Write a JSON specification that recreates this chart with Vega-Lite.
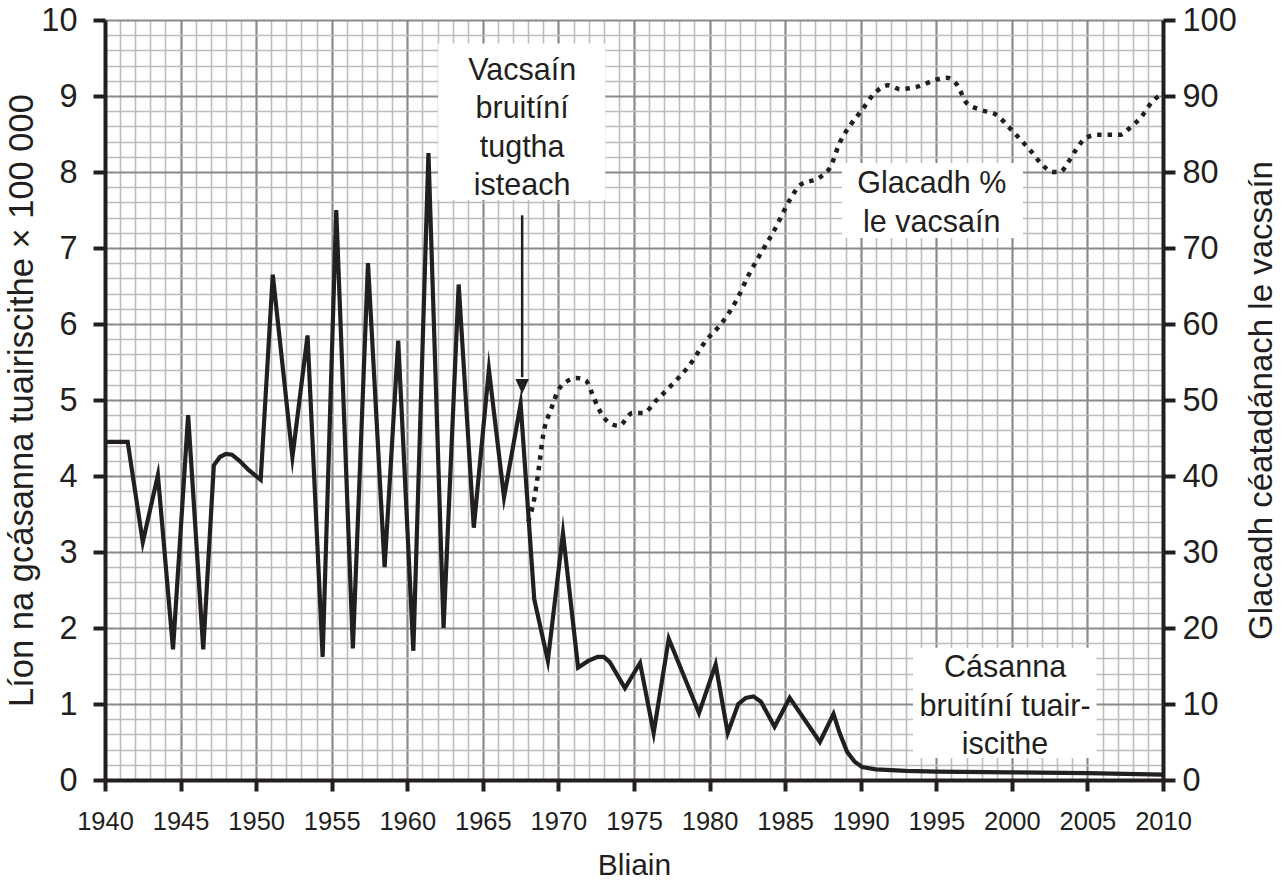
{
  "$schema": "https://vega.github.io/schema/vega-lite/v6.json",
  "width": 1058,
  "height": 760,
  "autosize": "none",
  "padding": {"left": 105, "top": 20, "right": 122, "bottom": 104},
  "background": "white",
  "datasets": {
    "solid": [
      {"year": 1940.0, "value": 4.45}, {"year": 1941.5, "value": 4.45}, {"year": 1942.5, "value": 3.13},
      {"year": 1943.5, "value": 4.01}, {"year": 1944.5, "value": 1.72}, {"year": 1945.5, "value": 4.8},
      {"year": 1946.5, "value": 1.72}, {"year": 1947.2, "value": 4.14}, {"year": 1947.6, "value": 4.25},
      {"year": 1948.0, "value": 4.29}, {"year": 1948.4, "value": 4.28}, {"year": 1948.9, "value": 4.2},
      {"year": 1949.5, "value": 4.08}, {"year": 1950.3, "value": 3.95}, {"year": 1951.1, "value": 6.65},
      {"year": 1952.4, "value": 4.25}, {"year": 1953.4, "value": 5.85}, {"year": 1954.4, "value": 1.62},
      {"year": 1955.3, "value": 7.5}, {"year": 1956.4, "value": 1.73}, {"year": 1957.4, "value": 6.8},
      {"year": 1958.5, "value": 2.8}, {"year": 1959.4, "value": 5.78}, {"year": 1960.4, "value": 1.7},
      {"year": 1961.4, "value": 8.25}, {"year": 1962.4, "value": 2.0}, {"year": 1963.4, "value": 6.52},
      {"year": 1964.4, "value": 3.32}, {"year": 1965.4, "value": 5.4}, {"year": 1966.4, "value": 3.72},
      {"year": 1967.5, "value": 4.95}, {"year": 1968.4, "value": 2.38}, {"year": 1969.3, "value": 1.57},
      {"year": 1970.3, "value": 3.25}, {"year": 1971.3, "value": 1.48}, {"year": 1972.0, "value": 1.57},
      {"year": 1972.6, "value": 1.62}, {"year": 1973.0, "value": 1.62}, {"year": 1973.4, "value": 1.55},
      {"year": 1974.4, "value": 1.21}, {"year": 1975.4, "value": 1.54}, {"year": 1976.3, "value": 0.62},
      {"year": 1977.3, "value": 1.86}, {"year": 1979.3, "value": 0.88}, {"year": 1980.4, "value": 1.52},
      {"year": 1981.2, "value": 0.62}, {"year": 1981.9, "value": 1.0}, {"year": 1982.4, "value": 1.08},
      {"year": 1982.9, "value": 1.1}, {"year": 1983.4, "value": 1.03}, {"year": 1984.3, "value": 0.7},
      {"year": 1985.3, "value": 1.08}, {"year": 1987.3, "value": 0.5}, {"year": 1988.2, "value": 0.87},
      {"year": 1988.6, "value": 0.62}, {"year": 1989.1, "value": 0.37}, {"year": 1989.6, "value": 0.24},
      {"year": 1990.1, "value": 0.17}, {"year": 1991.0, "value": 0.14}, {"year": 1993.0, "value": 0.12},
      {"year": 1995.0, "value": 0.11}, {"year": 2000.0, "value": 0.1}, {"year": 2005.0, "value": 0.09},
      {"year": 2010.0, "value": 0.07}
    ],
    "dotted": [
      {"year": 1968.0, "pct": 34}, {"year": 1968.4, "pct": 37}, {"year": 1968.7, "pct": 41},
      {"year": 1969.0, "pct": 45.5}, {"year": 1969.5, "pct": 48.7}, {"year": 1970.0, "pct": 51.3},
      {"year": 1970.6, "pct": 52.5}, {"year": 1971.2, "pct": 52.9}, {"year": 1971.8, "pct": 52.6},
      {"year": 1972.2, "pct": 51}, {"year": 1972.6, "pct": 49.1}, {"year": 1973.3, "pct": 47.1},
      {"year": 1974.0, "pct": 46.6}, {"year": 1974.9, "pct": 48.3}, {"year": 1975.6, "pct": 48.3},
      {"year": 1976.5, "pct": 50}, {"year": 1977.6, "pct": 52.2}, {"year": 1978.6, "pct": 54.4},
      {"year": 1979.8, "pct": 57.9}, {"year": 1980.8, "pct": 60.1}, {"year": 1981.8, "pct": 63.2},
      {"year": 1982.6, "pct": 66.5}, {"year": 1983.3, "pct": 69}, {"year": 1984.3, "pct": 72.4},
      {"year": 1985.3, "pct": 76.3}, {"year": 1986.0, "pct": 78.3}, {"year": 1987.3, "pct": 79.3},
      {"year": 1988.0, "pct": 80.7}, {"year": 1988.6, "pct": 83.8}, {"year": 1989.4, "pct": 86.4},
      {"year": 1990.1, "pct": 88.2}, {"year": 1990.8, "pct": 90.1}, {"year": 1991.8, "pct": 91.4},
      {"year": 1992.6, "pct": 90.9}, {"year": 1993.7, "pct": 91.2}, {"year": 1995.1, "pct": 92.2},
      {"year": 1995.7, "pct": 92.4}, {"year": 1996.4, "pct": 91.4}, {"year": 1997.0, "pct": 89.1},
      {"year": 1997.9, "pct": 88.2}, {"year": 1999.0, "pct": 87.5}, {"year": 1999.8, "pct": 85.9},
      {"year": 2000.6, "pct": 84.2}, {"year": 2001.2, "pct": 82.9}, {"year": 2001.9, "pct": 81.2},
      {"year": 2002.7, "pct": 80}, {"year": 2003.2, "pct": 80}, {"year": 2003.7, "pct": 81.2},
      {"year": 2004.3, "pct": 83.1}, {"year": 2004.9, "pct": 84.5}, {"year": 2005.7, "pct": 84.9},
      {"year": 2007.2, "pct": 84.9}, {"year": 2007.8, "pct": 85.8}, {"year": 2008.5, "pct": 87.1},
      {"year": 2009.4, "pct": 89.5}, {"year": 2010.0, "pct": 90.3}
    ],
    "boxes": [
      {"year": 1962.04, "year2": 1973.1, "value": 9.69, "value2": 7.63},
      {"year": 1988.76, "year2": 2000.74, "value": 8.12, "value2": 7.13},
      {"year": 1993.46, "year2": 2005.6, "value": 1.74, "value2": 0.29}
    ],
    "notes": [
      {"year": 1967.6, "value": 9.33, "label": "Vacsaín\nbruitíní\ntugtha\nisteach"},
      {"year": 1994.7, "value": 7.84, "label": "Glacadh %\nle vacsaín"},
      {"year": 1999.55, "value": 1.47, "label": "Cásanna\nbruitíní tuair-\niscithe"}
    ],
    "arrow": [
      {"year": 1967.6, "value": 7.43, "value2": 5.3}
    ],
    "arrowhead": [
      {"year": 1967.6, "value": 5.08}
    ]
  },
  "encoding": {
    "x": {
      "field": "year",
      "type": "quantitative",
      "scale": {"domain": [1940, 2010], "nice": false, "zero": false},
      "axis": {
        "title": "Bliain",
        "values": [1940,1941,1942,1943,1944,1945,1946,1947,1948,1949,1950,1951,1952,1953,1954,1955,1956,1957,1958,1959,1960,1961,1962,1963,1964,1965,1966,1967,1968,1969,1970,1971,1972,1973,1974,1975,1976,1977,1978,1979,1980,1981,1982,1983,1984,1985,1986,1987,1988,1989,1990,1991,1992,1993,1994,1995,1996,1997,1998,1999,2000,2001,2002,2003,2004,2005,2006,2007,2008,2009,2010],
        "format": "d",
        "labelExpr": "datum.value % 5 === 0 ? datum.label : ''",
        "labelOverlap": false,
        "labelFlush": false,
        "labelFontSize": 25.5,
        "labelPadding": 18,
        "grid": true,
        "gridColor": {"condition": {"test": "datum.value % 5 === 0", "value": "#8a8a8a"}, "value": "#bdbdbd"},
        "gridWidth": {"condition": {"test": "datum.value % 5 === 0", "value": 2.2}, "value": 1.6},
        "tickOpacity": {"condition": {"test": "datum.value % 5 === 0", "value": 1}, "value": 0},
        "tickSize": 11,
        "titlePadding": 16,
        "titleFontSize": 30
      }
    }
  },
  "layer": [
    {
      "encoding": {
        "y": {
          "field": "value",
          "type": "quantitative",
          "scale": {"domain": [0, 10], "nice": false, "zero": false},
          "axis": {
            "title": "Líon na gcásanna tuairiscithe × 100 000",
            "values": [0,0.2,0.4,0.6,0.8,1,1.2,1.4,1.6,1.8,2,2.2,2.4,2.6,2.8,3,3.2,3.4,3.6,3.8,4,4.2,4.4,4.6,4.8,5,5.2,5.4,5.6,5.8,6,6.2,6.4,6.6,6.8,7,7.2,7.4,7.6,7.8,8,8.2,8.4,8.6,8.8,9,9.2,9.4,9.6,9.8,10],
            "labelExpr": "abs(datum.value - round(datum.value)) < 0.01 ? format(round(datum.value), 'd') : ''",
            "labelOverlap": false,
            "labelFlush": false,
            "labelFontSize": 32.5,
            "labelPadding": 16,
            "grid": true,
            "gridColor": {"condition": {"test": "abs(datum.value - round(datum.value)) < 0.01", "value": "#8a8a8a"}, "value": "#bdbdbd"},
            "gridWidth": {"condition": {"test": "abs(datum.value - round(datum.value)) < 0.01", "value": 2.2}, "value": 1.6},
            "tickOpacity": {"condition": {"test": "abs(datum.value - round(datum.value)) < 0.01", "value": 1}, "value": 0},
            "tickSize": 12,
            "titlePadding": 1,
            "titleFontSize": 34.5
          }
        }
      },
      "layer": [
        {
          "data": {"name": "boxes"},
          "mark": {"type": "rect", "fill": "white", "stroke": null},
          "encoding": {
            "x2": {"field": "year2"},
            "y2": {"field": "value2"}
          }
        },
        {
          "data": {"name": "solid"},
          "mark": {"type": "line", "color": "#231f20", "strokeWidth": 4.2, "strokeJoin": "miter", "strokeMiterLimit": 10, "interpolate": "linear"}
        },
        {
          "data": {"name": "arrow"},
          "mark": {"type": "rule", "color": "#231f20", "strokeWidth": 2.5},
          "encoding": {"y2": {"field": "value2"}}
        },
        {
          "data": {"name": "arrowhead"},
          "mark": {"type": "point", "shape": "M-0.45,-1L0.45,-1L0,0Z", "filled": true, "color": "#231f20", "opacity": 1, "size": 900}
        },
        {
          "data": {"name": "notes"},
          "mark": {"type": "text", "font": "Liberation Sans", "fontSize": 30.5, "lineHeight": 38.5, "lineBreak": "\n", "align": "center", "baseline": "middle", "color": "#231f20"},
          "encoding": {"text": {"field": "label"}}
        }
      ]
    },
    {
      "data": {"name": "dotted"},
      "mark": {"type": "line", "color": "#231f20", "strokeWidth": 4.5, "strokeDash": [4.5, 6], "strokeCap": "butt", "interpolate": "monotone"},
      "encoding": {
        "y": {
          "field": "pct",
          "type": "quantitative",
          "scale": {"domain": [0, 100], "nice": false, "zero": false},
          "axis": {
            "orient": "right",
            "title": "Glacadh céatadánach le vacsaín",
            "titleAngle": 270,
            "values": [0,10,20,30,40,50,60,70,80,90,100],
            "grid": false,
            "labelFontSize": 32.5,
            "labelPadding": 7,
            "tickSize": 12,
            "titlePadding": 42,
            "titleFontSize": 33
          }
        }
      }
    }
  ],
  "resolve": {"scale": {"y": "independent"}},
  "config": {
    "view": {"stroke": null},
    "axis": {
      "domainColor": "#231f20",
      "domainWidth": 4,
      "tickColor": "#231f20",
      "tickWidth": 4,
      "labelFont": "Liberation Sans",
      "labelColor": "#231f20",
      "titleFont": "Liberation Sans",
      "titleColor": "#231f20",
      "titleFontWeight": "normal"
    }
  }
}
